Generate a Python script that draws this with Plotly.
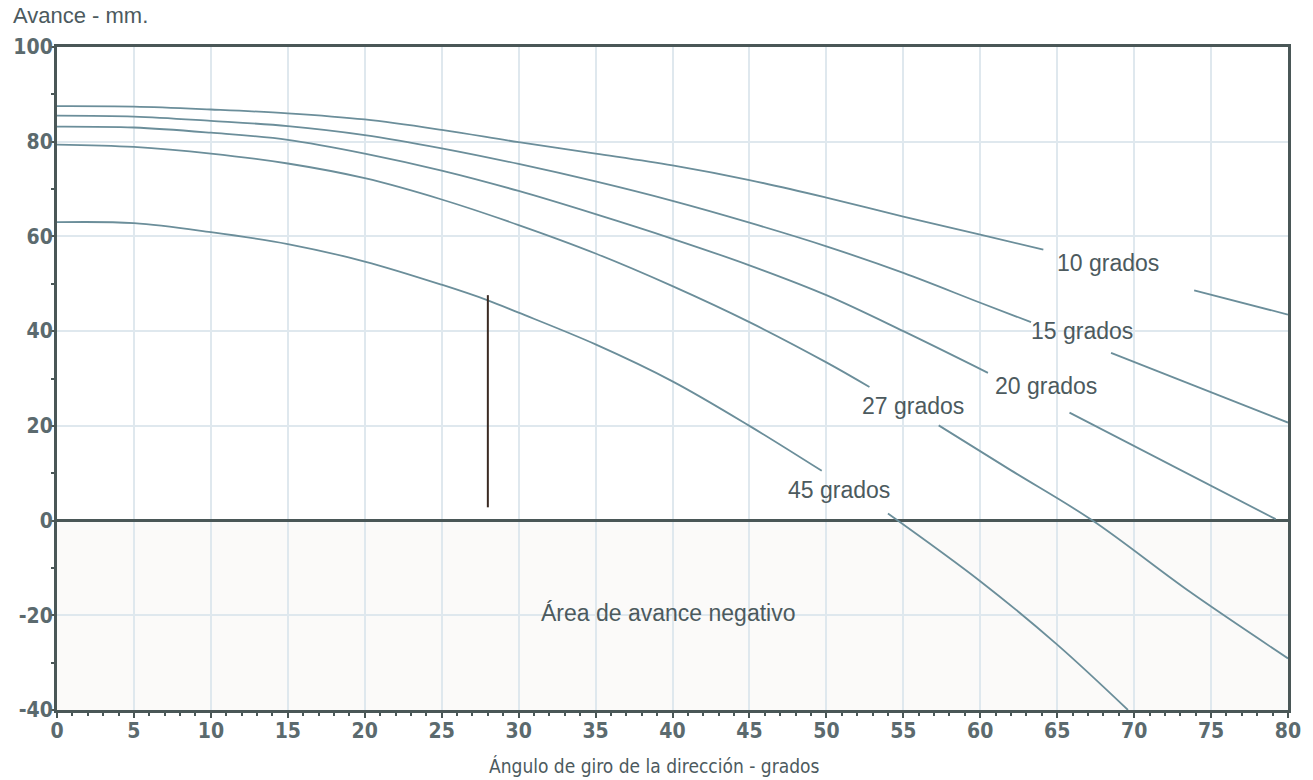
import plotly.graph_objects as go

# ---- data ----
x_10 = [0, 5, 10, 15, 20, 25, 30, 35, 40, 45, 50, 55, 60, 64.1, None, 73.9, 80]
y_10 = [87.5, 87.4, 86.8, 86.0, 84.7, 82.5, 79.9, 77.5, 75.0, 71.9, 68.2, 64.2, 60.4, 57.2, None, 48.6, 43.5]

x_15 = [0, 5, 10, 15, 20, 25, 30, 35, 40, 45, 50, 55, 60, 63.3, None, 68.5, 80]
y_15 = [85.5, 85.3, 84.4, 83.3, 81.4, 78.6, 75.3, 71.6, 67.5, 62.9, 57.9, 52.3, 46.0, 41.9, None, 35.4, 20.7]

x_20 = [0, 5, 10, 15, 20, 25, 30, 35, 40, 45, 50, 55, 60.5, None, 65.8, 79.2]
y_20 = [83.2, 83.0, 81.9, 80.4, 77.5, 73.9, 69.6, 64.7, 59.5, 53.9, 47.6, 40.0, 31.2, None, 22.8, 0.3]

x_27 = [0, 5, 10, 15, 20, 25, 30, 35, 40, 45, 50, 52.8, None, 57.3, 62, 67.3, 73.6, 80]
y_27 = [79.4, 78.9, 77.5, 75.4, 72.3, 67.8, 62.4, 56.4, 49.5, 41.9, 33.4, 28.2, None, 20.1, 10.6, 0.0, -15.0, -29.1]

x_45 = [0, 5, 10, 15, 20, 25, 28, 30, 35, 40, 45, 49.7, None, 54.0, 60, 65, 69.6]
y_45 = [63.0, 62.8, 60.9, 58.4, 54.7, 49.8, 46.5, 43.9, 37.2, 29.4, 20.0, 10.5, None, 1.5, -12.8, -26.2, -40.0]

series = [(x_10, y_10), (x_15, y_15), (x_20, y_20), (x_27, y_27), (x_45, y_45)]

label_text = ["10 grados", "15 grados", "20 grados", "27 grados", "45 grados"]
label_x = [68.3, 66.6, 64.3, 55.6, 50.8]
label_y = [54.4, 40.0, 28.4, 24.2, 6.4]

marker_x = [28.0, 28.0]
marker_y = [2.8, 47.6]

x_ticks = list(range(0, 81, 5))
y_ticks = [-40, -20, 0, 20, 40, 60, 80, 100]

LINE_COLOR = "#6b8e9a"
TEXT_COLOR = "#4c5a5e"
AXIS_COLOR = "#4a5757"
GRID_COLOR = "#dfe8ee"
COND = "DejaVu Sans Condensed, DejaVu Sans, sans-serif"
TICK_FONT = dict(family=COND, size=21, color="#5b6a6e", weight="bold")
LABEL_FONT = dict(family="Liberation Sans, Arial, sans-serif", size=23, color=TEXT_COLOR)

fig = go.Figure()

# negative-advance area
fig.add_shape(type="rect", xref="x", yref="y", x0=0, x1=80, y0=-40, y1=0,
              fillcolor="#fbfaf9", line_width=0, layer="below")

for xs, ys in series:
    fig.add_trace(go.Scatter(x=xs, y=ys, mode="lines", connectgaps=False,
                             line=dict(color=LINE_COLOR, width=1.8, shape="spline", smoothing=1.0),
                             hoverinfo="skip", showlegend=False))

fig.add_trace(go.Scatter(x=marker_x, y=marker_y, mode="lines",
                         line=dict(color="#3a2a22", width=2), showlegend=False, hoverinfo="skip"))

for t, lx, ly in zip(label_text, label_x, label_y):
    fig.add_annotation(x=lx, y=ly, text=t, showarrow=False, font=LABEL_FONT)

fig.add_annotation(x=39.7, y=-19.6, text="Área de avance negativo", showarrow=False, font=LABEL_FONT)

fig.add_annotation(xref="paper", yref="paper", x=-0.037, y=1.048, xanchor="left", yanchor="middle",
                   text="Avance - mm.", showarrow=False,
                   font=dict(family="Liberation Sans, Arial, sans-serif", size=22, color=TEXT_COLOR))

fig.add_annotation(xref="paper", yref="paper", x=0.485, y=-0.084, xanchor="center", yanchor="middle",
                   text="Ángulo de giro de la dirección - grados", showarrow=False,
                   font=dict(family=COND, size=19, color=TEXT_COLOR))

fig.update_layout(
    width=1313, height=780,
    margin=dict(l=57, r=25, t=47, b=70),
    paper_bgcolor="white", plot_bgcolor="white",
    showlegend=False,
)

fig.update_xaxes(range=[0, 80], tickvals=x_ticks, ticktext=[str(v) for v in x_ticks],
                 automargin=False,
                 showgrid=True, gridcolor=GRID_COLOR, gridwidth=1.5,
                 showline=True, linecolor=AXIS_COLOR, linewidth=3, mirror=True,
                 ticks="outside", ticklen=5, tickwidth=1.5, tickcolor=AXIS_COLOR,
                 ticklabelstandoff=-5,
                 minor=dict(dtick=1, ticks="outside", ticklen=3, tickcolor=AXIS_COLOR, showgrid=False),
                 tickfont=TICK_FONT, zeroline=False)

fig.update_yaxes(range=[-40, 100], tickvals=y_ticks, ticktext=[str(v) for v in y_ticks],
                 automargin=False,
                 showgrid=True, gridcolor=GRID_COLOR, gridwidth=1.5,
                 showline=True, linecolor=AXIS_COLOR, linewidth=3, mirror=True,
                 ticks="outside", ticklen=5, tickwidth=1.5, tickcolor=AXIS_COLOR,
                 ticklabelstandoff=-8,
                 minor=dict(dtick=10, ticks="outside", ticklen=3, tickcolor=AXIS_COLOR, showgrid=False),
                 tickfont=TICK_FONT, zeroline=True, zerolinecolor=AXIS_COLOR, zerolinewidth=3)

fig.write_html("out.html")
